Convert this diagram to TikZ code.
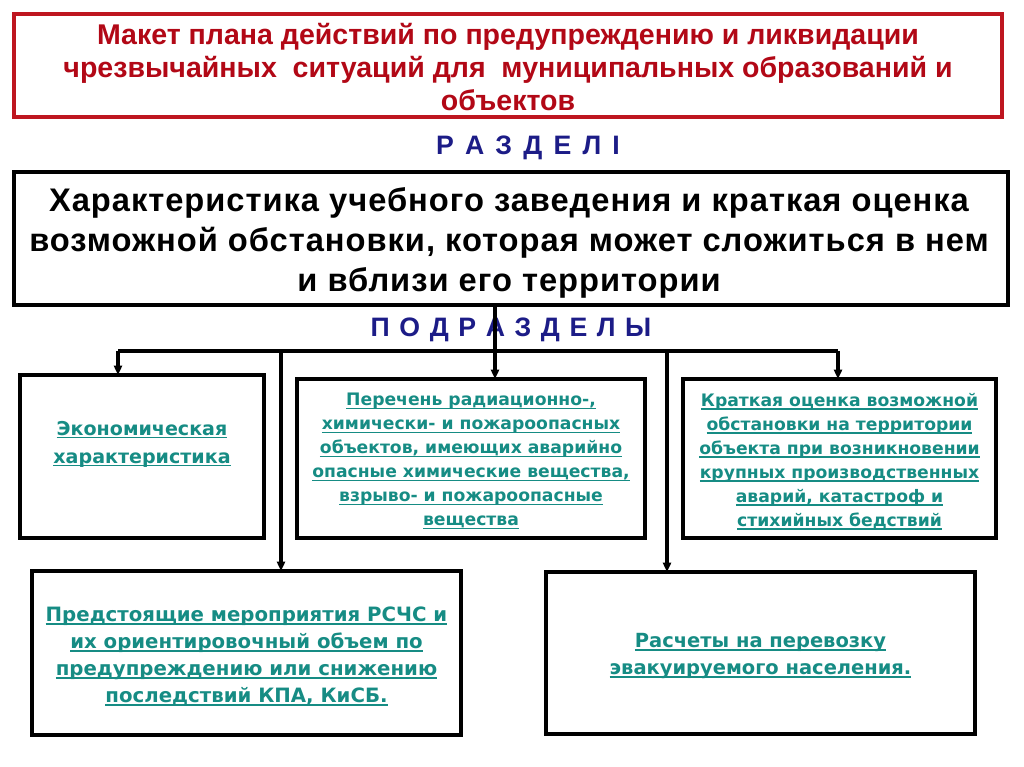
\documentclass[tikz,border=0pt]{standalone}
\usepackage{fontspec}
\setmainfont{Liberation Sans}
\newfontfamily\mainfont[LetterSpace=3]{Liberation Sans}
\newfontfamily\boxfont{DejaVu Sans}
\usetikzlibrary{arrows.meta}
\definecolor{titlered}{RGB}{178,8,22}
\definecolor{frame}{RGB}{190,22,32}
\definecolor{headblue}{RGB}{28,28,135}
\definecolor{teal}{RGB}{22,140,132}
\newcommand\tul[1]{{\setbox0=\hbox{\vphantom{ру}#1}\rlap{\rule[-2.6pt]{\wd0}{1.2pt}}\box0}}
\newcommand\lsp{\hspace{8.4pt}}
\newcommand\psp{\hspace{7.2pt}}
\begin{document}
\begin{tikzpicture}[x=0.75pt,y=-0.75pt,
  every node/.style={inner sep=0pt,outer sep=0pt},
  titlebox/.style={draw=frame,line width=2.3pt,fill=white,minimum width=741pt,minimum height=77.25pt},
  mainbox/.style={draw=black,line width=2.4pt,fill=white,minimum width=745.5pt,minimum height=99.75pt},
  subbox/.style={draw=black,line width=2.4pt,fill=white},
  subtext/.style={text=teal,align=center,font=\boxfont\bfseries},
  head/.style={text=headblue,font=\bfseries\fontsize{20}{22}\selectfont},
  conn/.style={line width=2.4pt,draw=black},
  arr/.style={conn,-{Triangle[length=7pt,width=6pt]}}
]
\useasboundingbox[fill=white] (0,0) rectangle (1024,767);
% title
\node[titlebox] (title) at (508,65.5) {};
\node[text=titlered,align=center,font=\bfseries\fontsize{21.4}{24.75}\selectfont] (titletext) at (508,67.5)
 {Макет плана действий по предупреждению и ликвидации\\
  чрезвычайных\ \ ситуаций для\ \ муниципальных образований и\\
  объектов};
% section header
\node[head] (razdel) at (528,148) {Р\lsp А\lsp З\lsp Д\lsp Е\lsp Л\lsp I};
% main box
\node[mainbox] (main) at (511,238.5) {};
\node[align=center,font=\mainfont\bfseries\fontsize{24.5}{30}\selectfont] (maintext) at (509,242.5)
 {Характеристика учебного заведения и краткая оценка\\
  возможной обстановки, которая может сложиться в нем\\
  и вблизи его территории};
\node[head] (podr) at (511,330) {П\psp О\psp Д\psp Р\psp А\psp З\psp Д\psp Е\psp Л\psp Ы};
% sub boxes
\node[subbox,minimum width=183pt,minimum height=122.25pt] (b1) at (142,456.5) {};
\node[subtext,font=\boxfont\bfseries\fontsize{14.3}{21}\selectfont] (b1t) at (142,444)
 {\tul{Экономическая}\\\tul{характеристика}};
\node[subbox,minimum width=261pt,minimum height=119.25pt] (b2) at (471,458.5) {};
\node[subtext,font=\boxfont\bfseries\fontsize{12.9}{18}\selectfont] (b2t) at (471,461.5)
 {\tul{Перечень радиационно-,}\\
  \tul{химически- и пожароопасных}\\
  \tul{объектов, имеющих аварийно}\\
  \tul{опасные химические вещества,}\\
  \tul{взрыво- и пожароопасные}\\
  \tul{вещества}};
\node[subbox,minimum width=234.75pt,minimum height=119.25pt] (b3) at (839.5,458.5) {};
\node[subtext,font=\boxfont\bfseries\fontsize{12.9}{18}\selectfont] (b3t) at (839.5,461.5)
 {\tul{Краткая оценка возможной}\\
  \tul{обстановки на территории}\\
  \tul{объекта при возникновении}\\
  \tul{крупных производственных}\\
  \tul{аварий, катастроф и}\\
  \tul{стихийных бедствий}};
\node[subbox,minimum width=321.75pt,minimum height=123pt] (b4) at (246.5,653) {};
\node[subtext,font=\boxfont\bfseries\fontsize{14.8}{20.2}\selectfont] (b4t) at (246.5,656.5)
 {\tul{Предстоящие мероприятия РСЧС и}\\
  \tul{их ориентировочный объем по}\\
  \tul{предупреждению или снижению}\\
  \tul{последствий КПА, КиСБ.}};
\node[subbox,minimum width=321.75pt,minimum height=121.5pt] (b5) at (760.5,653) {};
\node[subtext,font=\boxfont\bfseries\fontsize{14.6}{20.2}\selectfont] (b5t) at (760.5,656)
 {\tul{Расчеты на перевозку}\\
  \tul{эвакуируемого населения.}};
% connectors
\coordinate (bL) at (118,351);
\coordinate (bR) at (838,351);
\coordinate (bC) at (495,351);
\coordinate (d4) at (281,351);
\coordinate (d5) at (667,351);
\draw[conn] (bL) -- (bR);
\draw[arr] (main.south -| bC) -- (b2.north -| bC);
\draw[arr] (bL) -- (b1.north -| bL);
\draw[arr] (bR) -- (b3.north -| bR);
\draw[arr] (d4) -- (b4.north -| d4);
\draw[arr] (d5) -- (b5.north -| d5);
\end{tikzpicture}
\end{document}
